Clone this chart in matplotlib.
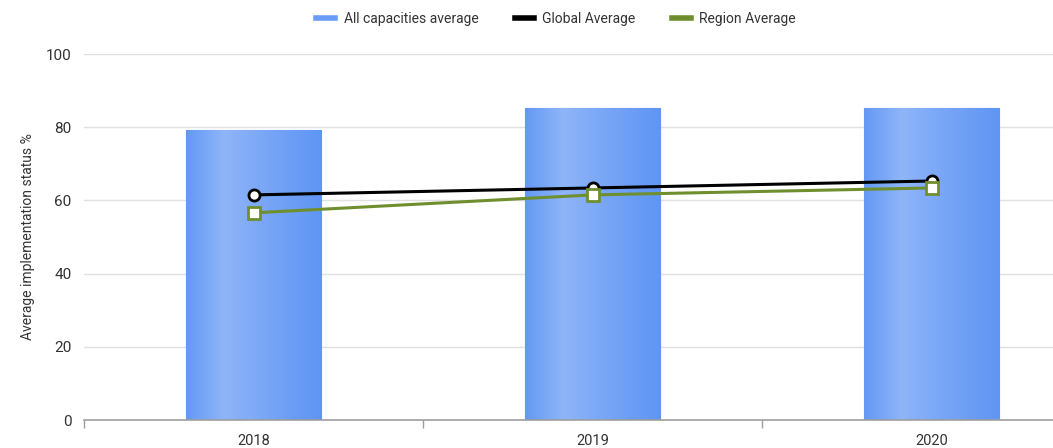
import numpy as np
import matplotlib.pyplot as plt
from matplotlib.colors import LinearSegmentedColormap

years = ['2018', '2019', '2020']
all_capacities = [79.2, 85.2, 85.2]
global_avg = [61.5, 63.4, 65.3]
region_avg = [56.6, 61.5, 63.4]

plt.rcParams['font.family'] = ['Roboto', 'DejaVu Sans']

fig = plt.figure(figsize=(10.53, 4.48), dpi=100)
ax = fig.add_axes([84 / 1053, 1 - 420 / 448, 1017 / 1053, 366 / 448])

x = np.arange(len(years))
bars = ax.bar(x, all_capacities, width=0.4, color='#6a9cf5', edgecolor='#5b8def',
              linewidth=0.8, zorder=2, label='All capacities average')

# horizontal gradient on each bar, lighter stripe left of centre
grad_cmap = LinearSegmentedColormap.from_list(
    'bar', [(0, '#6399f4'), (0.28, '#8fb5f8'), (0.6, '#78a5f6'), (1, '#5f95f4')])
grad = np.linspace(0, 1, 256).reshape(1, -1)
for b in bars:
    im = ax.imshow(grad, cmap=grad_cmap, aspect='auto', zorder=2.1,
                   extent=[b.get_x(), b.get_x() + b.get_width(), 0, b.get_height()])
    im.set_clip_path(b)

ax.plot(x, global_avg, color='black', lw=2.2, marker='o', ms=8, mfc='white',
        mec='black', mew=2, zorder=3, label='Global Average')
ax.plot(x, region_avg, color='#6f8f2f', lw=2.2, marker='s', ms=8, mfc='white',
        mec='#6f8f2f', mew=2, zorder=4, label='Region Average')

ax.set_xlim(-0.5, 2.5)
ax.set_ylim(0, 100)
ax.set_yticks([0, 20, 40, 60, 80, 100])
ax.grid(axis='y', color='#e0e0e0', lw=1, zorder=0)
ax.set_axisbelow(True)

for s in ['top', 'right', 'left']:
    ax.spines[s].set_visible(False)
ax.spines['bottom'].set_color('#9e9e9e')
ax.spines['bottom'].set_linewidth(1.2)

ax.set_xticks(x)
ax.set_xticklabels(years, fontsize=10.5, color='#333333')
ax.tick_params(axis='x', length=0, pad=10)
ax.set_xticks([-0.5, 0.5, 1.5], minor=True)
ax.tick_params(axis='x', which='minor', length=6, color='#9e9e9e', width=1)
ax.tick_params(axis='y', length=0, labelsize=11, labelcolor='#333333', pad=9)

ax.set_ylabel('Average implementation status %', fontsize=10, color='#333333', labelpad=8)

handles = [plt.Line2D([], [], color='#6a9cf5', lw=4),
           plt.Line2D([], [], color='black', lw=4),
           plt.Line2D([], [], color='#6f8f2f', lw=4)]
fig.legend(handles, ['All capacities average', 'Global Average', 'Region Average'],
           loc='center', bbox_to_anchor=(556 / 1053, 1 - 19 / 448), ncol=3, frameon=False,
           fontsize=10, handlelength=1.4, handletextpad=0.6, columnspacing=2.6,
           labelcolor='#333333')

fig.savefig('out.png', dpi=100)
